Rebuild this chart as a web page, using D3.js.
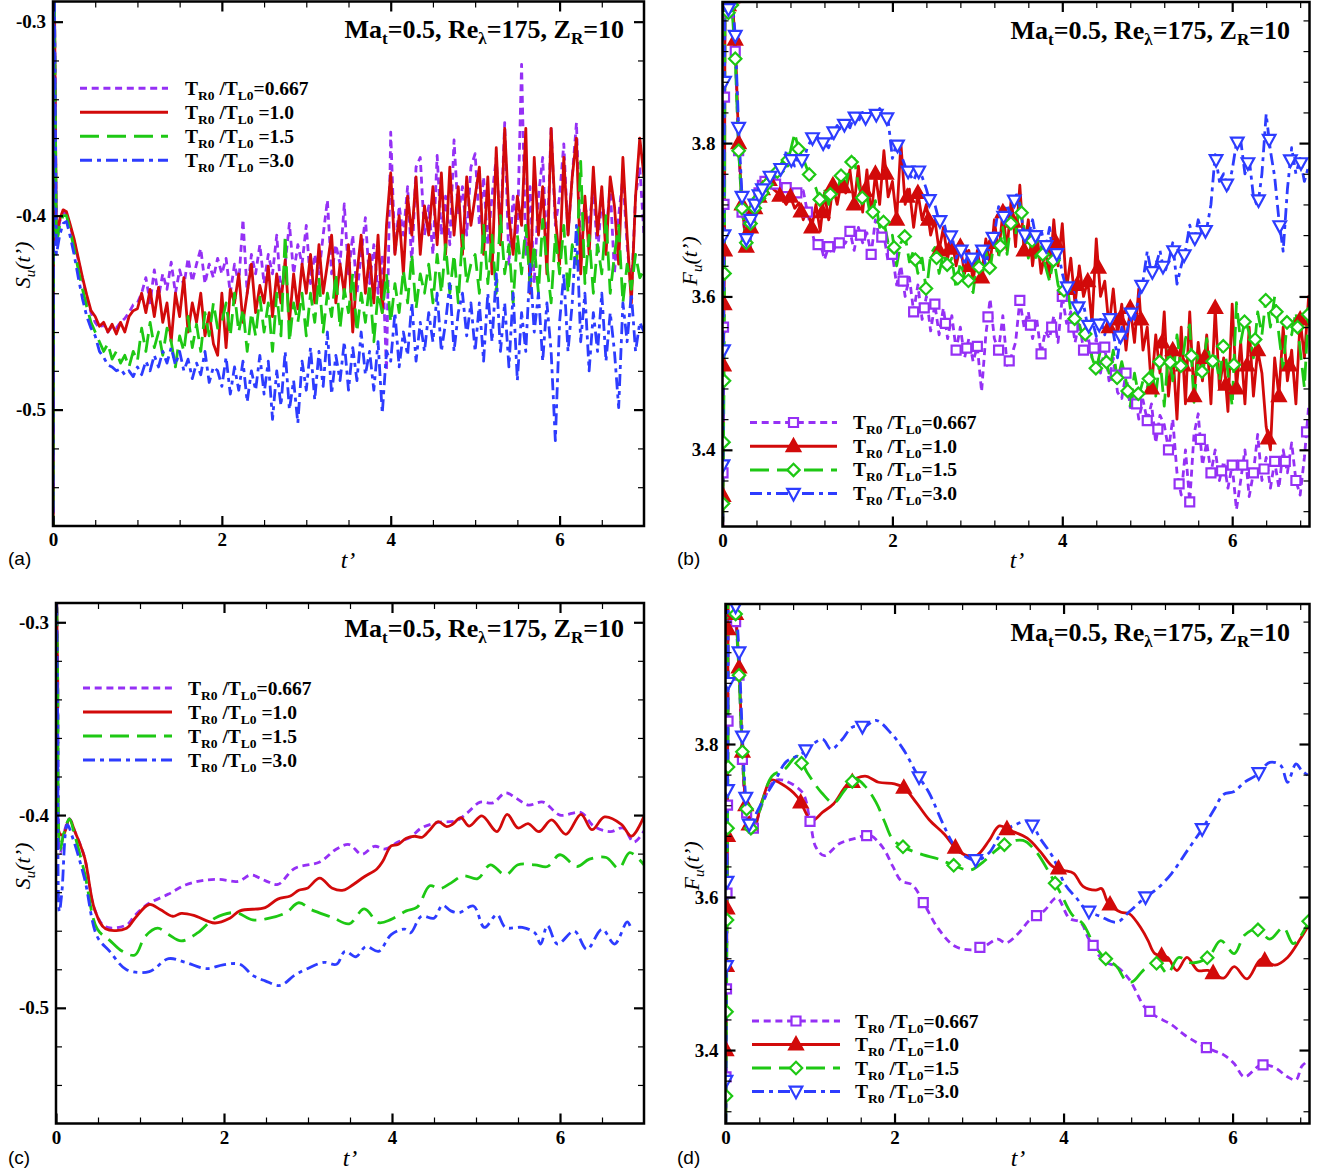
<!DOCTYPE html>
<html>
<head>
<meta charset="utf-8">
<script src="https://cdn.jsdelivr.net/npm/d3@7"></script>
<style>
body{margin:0;background:#fff;}
svg text{font-family:"Liberation Serif","Times New Roman",serif;fill:#000;}
</style>
</head>
<body>
<script>
(function(){

//---------------- data ----------------
var caseRatios = ["0.667", "1.0", "1.5", "3.0"];
var xTickValues = [0, 2, 4, 6];
var sTickValues = [-0.5, -0.4, -0.3];
var sTickLabels = ["-0.5", "-0.4", "-0.3"];
var fTickValues = [3.4, 3.6, 3.8];
var fTickLabels = ["3.4", "3.6", "3.8"];

//sampling of the raw (noisy) signals after the initial transient, t' = 0.5 ... 7.0
var rawTime = d3.range(131).map(function(i){ return 0.5 + 0.05*i; });

//(a) raw S_u, initial transient as [t', value]
var sHeadPurpleA = [[0,-0.62],[0.012,-0.26],[0.04,-0.415],[0.08,-0.403],[0.12,-0.398],[0.16,-0.399],[0.2,-0.405],[0.25,-0.413],[0.3,-0.423],[0.35,-0.433],[0.4,-0.442],[0.45,-0.45]];
var sHeadRedA = [[0,-0.62],[0.012,-0.26],[0.04,-0.41],[0.08,-0.402],[0.12,-0.397],[0.16,-0.398],[0.2,-0.404],[0.25,-0.412],[0.3,-0.422],[0.35,-0.432],[0.4,-0.441],[0.45,-0.449]];
var sHeadGreenA = [[0,-0.62],[0.012,-0.26],[0.04,-0.415],[0.08,-0.405],[0.12,-0.4],[0.16,-0.4],[0.2,-0.407],[0.25,-0.417],[0.3,-0.428],[0.35,-0.438],[0.4,-0.447],[0.45,-0.455]];
var sHeadBlueA = [[0,-0.62],[0.012,-0.26],[0.04,-0.42],[0.08,-0.41],[0.12,-0.404],[0.16,-0.403],[0.2,-0.41],[0.25,-0.42],[0.3,-0.432],[0.35,-0.443],[0.4,-0.452],[0.45,-0.458]];

var sRawPurple = [
 -0.455,-0.458,-0.456,-0.46,-0.457,-0.458,-0.455,-0.453,-0.45,-0.446,
 -0.445,-0.44,-0.432,-0.445,-0.428,-0.442,-0.43,-0.438,-0.424,-0.44,
 -0.428,-0.436,-0.422,-0.434,-0.425,-0.417,-0.435,-0.425,-0.432,-0.422,
 -0.43,-0.422,-0.44,-0.425,-0.435,-0.402,-0.44,-0.42,-0.43,-0.415,
 -0.435,-0.42,-0.43,-0.41,-0.44,-0.425,-0.404,-0.43,-0.415,-0.425,
 -0.405,-0.435,-0.42,-0.43,-0.41,-0.392,-0.43,-0.415,-0.425,-0.394,
 -0.43,-0.41,-0.44,-0.42,-0.401,-0.435,-0.415,-0.44,-0.42,-0.48,
 -0.357,-0.42,-0.395,-0.41,-0.385,-0.425,-0.375,-0.37,-0.41,-0.395,
 -0.42,-0.369,-0.41,-0.39,-0.415,-0.361,-0.4,-0.385,-0.41,-0.375,
 -0.368,-0.405,-0.38,-0.415,-0.39,-0.37,-0.41,-0.352,-0.425,-0.39,
 -0.41,-0.322,-0.42,-0.385,-0.435,-0.39,-0.37,-0.42,-0.354,-0.405,
 -0.39,-0.363,-0.41,-0.38,-0.352,-0.42,-0.395,-0.405,-0.385,-0.42,
 -0.39,-0.41,-0.385,-0.43,-0.4,-0.38,-0.415,-0.44,-0.39,-0.375,
 -0.41];
var sRawRed = [
 -0.452,-0.457,-0.455,-0.46,-0.456,-0.461,-0.455,-0.46,-0.452,-0.449,
 -0.448,-0.44,-0.45,-0.438,-0.452,-0.437,-0.455,-0.445,-0.465,-0.44,
 -0.452,-0.432,-0.46,-0.445,-0.455,-0.44,-0.462,-0.45,-0.466,-0.472,
 -0.44,-0.468,-0.438,-0.445,-0.43,-0.455,-0.44,-0.425,-0.45,-0.436,
 -0.445,-0.426,-0.452,-0.43,-0.445,-0.423,-0.455,-0.43,-0.448,-0.425,
 -0.44,-0.42,-0.445,-0.415,-0.44,-0.425,-0.41,-0.445,-0.425,-0.44,
 -0.415,-0.46,-0.43,-0.41,-0.44,-0.42,-0.445,-0.41,-0.45,-0.405,
 -0.378,-0.42,-0.4,-0.43,-0.39,-0.41,-0.38,-0.42,-0.395,-0.41,
 -0.385,-0.415,-0.378,-0.42,-0.375,-0.41,-0.385,-0.42,-0.38,-0.405,
 -0.39,-0.375,-0.42,-0.38,-0.43,-0.365,-0.415,-0.355,-0.4,-0.42,
 -0.39,-0.405,-0.355,-0.44,-0.37,-0.41,-0.385,-0.43,-0.355,-0.4,
 -0.425,-0.37,-0.41,-0.38,-0.36,-0.43,-0.39,-0.42,-0.375,-0.41,
 -0.385,-0.42,-0.38,-0.395,-0.425,-0.37,-0.41,-0.445,-0.39,-0.36,
 -0.38];
var sRawGreen = [
 -0.46,-0.465,-0.47,-0.466,-0.474,-0.47,-0.476,-0.472,-0.478,-0.47,
 -0.475,-0.458,-0.47,-0.455,-0.468,-0.46,-0.472,-0.458,-0.465,-0.478,
 -0.462,-0.47,-0.452,-0.468,-0.456,-0.47,-0.45,-0.462,-0.445,-0.458,
 -0.455,-0.445,-0.462,-0.44,-0.46,-0.448,-0.47,-0.45,-0.462,-0.442,
 -0.46,-0.445,-0.47,-0.44,-0.462,-0.41,-0.465,-0.445,-0.455,-0.44,
 -0.462,-0.44,-0.455,-0.432,-0.46,-0.44,-0.452,-0.43,-0.458,-0.438,
 -0.45,-0.43,-0.46,-0.44,-0.455,-0.435,-0.465,-0.44,-0.45,-0.43,
 -0.455,-0.435,-0.45,-0.428,-0.445,-0.42,-0.448,-0.43,-0.44,-0.425,
 -0.445,-0.42,-0.44,-0.415,-0.44,-0.42,-0.445,-0.41,-0.435,-0.425,
 -0.42,-0.44,-0.405,-0.435,-0.41,-0.44,-0.4,-0.43,-0.415,-0.445,
 -0.41,-0.43,-0.405,-0.435,-0.415,-0.44,-0.402,-0.425,-0.445,-0.41,
 -0.43,-0.405,-0.44,-0.415,-0.425,-0.372,-0.435,-0.41,-0.44,-0.415,
 -0.43,-0.4,-0.44,-0.42,-0.405,-0.445,-0.425,-0.438,-0.42,-0.432,
 -0.428];
var sRawBlue = [
 -0.462,-0.47,-0.473,-0.477,-0.478,-0.48,-0.479,-0.482,-0.48,-0.483,
 -0.478,-0.482,-0.475,-0.48,-0.472,-0.478,-0.47,-0.476,-0.468,-0.477,
 -0.47,-0.48,-0.474,-0.484,-0.476,-0.482,-0.47,-0.486,-0.478,-0.48,
 -0.488,-0.473,-0.492,-0.478,-0.49,-0.475,-0.496,-0.48,-0.49,-0.472,
 -0.492,-0.475,-0.505,-0.48,-0.498,-0.47,-0.5,-0.485,-0.507,-0.475,
 -0.49,-0.468,-0.495,-0.47,-0.488,-0.46,-0.492,-0.472,-0.485,-0.465,
 -0.49,-0.468,-0.485,-0.46,-0.482,-0.47,-0.49,-0.465,-0.502,-0.47,
 -0.475,-0.45,-0.478,-0.46,-0.472,-0.445,-0.475,-0.455,-0.47,-0.45,
 -0.465,-0.44,-0.47,-0.455,-0.435,-0.47,-0.45,-0.44,-0.462,-0.445,
 -0.47,-0.445,-0.475,-0.44,-0.465,-0.43,-0.47,-0.445,-0.478,-0.44,
 -0.485,-0.45,-0.47,-0.425,-0.46,-0.44,-0.475,-0.445,-0.47,-0.516,
 -0.455,-0.43,-0.47,-0.445,-0.405,-0.465,-0.44,-0.48,-0.45,-0.47,
 -0.44,-0.475,-0.45,-0.47,-0.499,-0.445,-0.465,-0.44,-0.47,-0.455,
 -0.46];

//(b) raw F_u, initial transient as [t', value]
var fHeadPurpleB = [[0,3.2],[0.006,3.37],[0.012,3.56],[0.018,3.72],[0.024,3.86],[0.03,4.05],[0.07,3.97],[0.11,3.985],[0.15,3.92],[0.19,3.79],[0.23,3.71],[0.28,3.67],[0.33,3.695],[0.38,3.72],[0.43,3.735],[0.47,3.745]];
var fHeadRedB = [[0,3.2],[0.006,3.34],[0.012,3.51],[0.018,3.59],[0.024,3.66],[0.03,4.05],[0.07,3.98],[0.11,3.99],[0.15,3.935],[0.19,3.8],[0.23,3.72],[0.28,3.665],[0.33,3.69],[0.38,3.715],[0.43,3.73],[0.47,3.74]];
var fHeadGreenB = [[0,3.2],[0.006,3.33],[0.012,3.41],[0.018,3.49],[0.024,3.63],[0.03,4.05],[0.07,3.97],[0.11,3.98],[0.15,3.91],[0.19,3.79],[0.23,3.715],[0.28,3.67],[0.33,3.695],[0.38,3.715],[0.43,3.728],[0.47,3.735]];
var fHeadBlueB = [[0,3.2],[0.006,3.38],[0.012,3.53],[0.018,3.68],[0.024,3.88],[0.03,4.05],[0.07,3.975],[0.11,3.995],[0.15,3.94],[0.19,3.82],[0.23,3.73],[0.28,3.675],[0.33,3.7],[0.38,3.72],[0.43,3.732],[0.47,3.74]];

var fRawPurple = [
 3.75,3.755,3.748,3.745,3.74,3.742,3.735,3.74,3.73,3.738,
 3.71,3.685,3.665,3.67,3.648,3.665,3.655,3.675,3.665,3.67,
 3.685,3.66,3.69,3.67,3.683,3.655,3.7,3.675,3.68,3.645,
 3.655,3.615,3.64,3.6,3.625,3.58,3.615,3.57,3.6,3.555,
 3.59,3.55,3.585,3.545,3.575,3.53,3.56,3.52,3.545,3.515,
 3.535,3.476,3.55,3.597,3.545,3.53,3.575,3.51,3.522,3.54,
 3.595,3.56,3.58,3.545,3.57,3.525,3.555,3.545,3.575,3.54,
 3.6,3.565,3.58,3.54,3.567,3.53,3.55,3.52,3.545,3.5,
 3.534,3.49,3.52,3.475,3.467,3.5,3.455,3.48,3.44,3.465,
 3.438,3.46,3.409,3.445,3.433,3.4,3.44,3.37,3.341,3.4,
 3.332,3.42,3.447,3.38,3.41,3.37,3.4,3.36,3.385,3.35,
 3.38,3.322,3.36,3.4,3.339,3.37,3.42,3.36,3.39,3.35,
 3.385,3.35,3.4,3.37,3.409,3.36,3.341,3.39,3.457,3.41,
 3.44];
var fRawRed = [
 3.745,3.752,3.74,3.735,3.728,3.72,3.73,3.715,3.722,3.7,
 3.715,3.69,3.72,3.685,3.735,3.7,3.745,3.72,3.75,3.735,
 3.765,3.72,3.77,3.71,3.765,3.705,3.76,3.72,3.79,3.73,
 3.75,3.7,3.8,3.72,3.74,3.69,3.735,3.7,3.72,3.68,
 3.7,3.66,3.69,3.65,3.675,3.64,3.665,3.63,3.66,3.62,
 3.66,3.625,3.675,3.64,3.7,3.655,3.71,3.66,3.73,3.665,
 3.745,3.66,3.7,3.64,3.685,3.63,3.66,3.625,3.7,3.64,
 3.695,3.61,3.65,3.59,3.64,3.6,3.62,3.565,3.675,3.6,
 3.62,3.56,3.61,3.55,3.59,3.53,3.585,3.54,3.61,3.53,
 3.56,3.48,3.55,3.5,3.58,3.47,3.53,3.44,3.56,3.46,
 3.58,3.47,3.54,3.49,3.55,3.46,3.585,3.48,3.52,3.45,
 3.59,3.48,3.54,3.46,3.56,3.47,3.53,3.5,3.43,3.4,
 3.52,3.47,3.56,3.49,3.53,3.46,3.57,3.52,3.6,3.54,
 3.56];
var fRawGreen = [
 3.74,3.755,3.745,3.765,3.775,3.77,3.79,3.813,3.79,3.78,
 3.765,3.75,3.741,3.725,3.74,3.72,3.753,3.735,3.76,3.745,
 3.772,3.78,3.745,3.727,3.73,3.7,3.725,3.69,3.698,3.67,
 3.68,3.64,3.67,3.679,3.645,3.66,3.63,3.65,3.606,3.655,
 3.664,3.63,3.655,3.64,3.65,3.61,3.645,3.625,3.62,3.605,
 3.65,3.62,3.66,3.635,3.674,3.65,3.69,3.655,3.7,3.68,
 3.722,3.69,3.65,3.675,3.645,3.665,3.64,3.62,3.65,3.615,
 3.6,3.62,3.58,3.57,3.563,3.545,3.56,3.52,3.505,3.53,
 3.524,3.5,3.53,3.49,3.515,3.49,3.457,3.5,3.47,3.49,
 3.481,3.51,3.47,3.52,3.457,3.53,3.49,3.55,3.505,3.545,
 3.563,3.462,3.52,3.5,3.545,3.51,3.524,3.49,3.54,3.5,
 3.457,3.592,3.54,3.57,3.553,3.52,3.58,3.55,3.6,3.56,
 3.6,3.55,3.505,3.573,3.55,3.58,3.53,3.481,3.587,3.56,
 3.58];
var fRawBlue = [
 3.745,3.758,3.75,3.77,3.765,3.789,3.78,3.77,3.785,3.775,
 3.795,3.805,3.813,3.8,3.8,3.794,3.812,3.823,3.815,3.828,
 3.82,3.835,3.828,3.84,3.83,3.842,3.835,3.845,3.838,3.83,
 3.78,3.8,3.785,3.77,3.76,3.751,3.765,3.756,3.74,3.72,
 3.72,3.698,3.7,3.675,3.68,3.65,3.665,3.64,3.66,3.645,
 3.65,3.665,3.64,3.669,3.68,3.717,3.7,3.72,3.7,3.736,
 3.72,3.68,3.679,3.7,3.67,3.688,3.66,3.69,3.645,3.66,
 3.63,3.61,3.62,3.6,3.58,3.59,3.56,3.57,3.548,3.57,
 3.55,3.575,3.553,3.52,3.56,3.545,3.58,3.57,3.6,3.62,
 3.659,3.63,3.64,3.66,3.63,3.645,3.67,3.616,3.64,3.66,
 3.693,3.67,3.7,3.68,3.688,3.72,3.785,3.75,3.76,3.74,
 3.765,3.8,3.804,3.76,3.78,3.73,3.717,3.76,3.838,3.79,
 3.756,3.7,3.659,3.74,3.794,3.76,3.78,3.75,3.77,3.76,
 3.76];

//(c) filtered S_u as [t', value]
var sFiltPurple = [[0,-0.25],[0.02,-0.33],[0.05,-0.42],[0.09,-0.41],[0.16,-0.402],[0.22,-0.408],[0.34,-0.422],[0.46,-0.449],[0.59,-0.458],[0.84,-0.457],[0.94,-0.452],[1.1,-0.446],[1.34,-0.441],[1.54,-0.4363],[1.74,-0.434],[1.94,-0.4334],[2.17,-0.4344],[2.32,-0.4311],[2.49,-0.434],[2.64,-0.436],[2.84,-0.4277],[3.14,-0.4243],[3.34,-0.4176],[3.49,-0.4153],[3.64,-0.4204],[3.79,-0.4162],[3.92,-0.4176],[4.07,-0.414],[4.22,-0.4115],[4.35,-0.4067],[4.55,-0.4038],[4.77,-0.4029],[4.9,-0.3987],[5.05,-0.3933],[5.2,-0.3937],[5.35,-0.3885],[5.47,-0.391],[5.62,-0.3948],[5.8,-0.3933],[6.0,-0.4],[6.25,-0.3987],[6.4,-0.4057],[6.6,-0.4086],[6.75,-0.4067],[6.88,-0.414],[7.0,-0.4082]];
var sFiltRed = [[0,-0.25],[0.02,-0.33],[0.05,-0.41],[0.09,-0.41],[0.16,-0.402],[0.22,-0.408],[0.34,-0.422],[0.46,-0.449],[0.59,-0.459],[0.84,-0.4587],[0.94,-0.4535],[1.11,-0.4464],[1.24,-0.449],[1.39,-0.4525],[1.49,-0.451],[1.64,-0.452],[1.89,-0.456],[2.07,-0.4535],[2.19,-0.4497],[2.49,-0.448],[2.64,-0.4436],[2.79,-0.442],[2.89,-0.439],[2.99,-0.438],[3.14,-0.4327],[3.29,-0.438],[3.42,-0.439],[3.54,-0.436],[3.67,-0.432],[3.82,-0.428],[3.89,-0.424],[3.99,-0.416],[4.07,-0.4153],[4.17,-0.412],[4.27,-0.411],[4.36,-0.4115],[4.45,-0.4077],[4.55,-0.4034],[4.65,-0.406],[4.72,-0.4048],[4.82,-0.4013],[4.92,-0.4057],[5.07,-0.4004],[5.25,-0.4086],[5.37,-0.3996],[5.5,-0.4067],[5.62,-0.4044],[5.75,-0.4086],[5.9,-0.4025],[6.07,-0.41],[6.25,-0.3996],[6.38,-0.4076],[6.53,-0.401],[6.73,-0.4048],[6.85,-0.411],[7.0,-0.4006]];
var sFiltGreen = [[0,-0.25],[0.02,-0.33],[0.05,-0.418],[0.09,-0.41],[0.16,-0.402],[0.22,-0.41],[0.34,-0.43],[0.49,-0.459],[0.64,-0.465],[0.79,-0.4707],[0.94,-0.4726],[1.06,-0.463],[1.21,-0.4587],[1.34,-0.462],[1.49,-0.4653],[1.69,-0.461],[1.89,-0.4535],[2.14,-0.4506],[2.34,-0.4544],[2.54,-0.4535],[2.74,-0.4506],[2.89,-0.4455],[3.04,-0.4491],[3.29,-0.4531],[3.49,-0.4564],[3.67,-0.4487],[3.84,-0.4558],[3.99,-0.4541],[4.17,-0.4497],[4.3,-0.4478],[4.45,-0.4367],[4.57,-0.4382],[4.7,-0.4353],[4.85,-0.4315],[5.02,-0.433],[5.17,-0.4258],[5.35,-0.4311],[5.5,-0.4258],[5.7,-0.4258],[5.85,-0.4267],[6.0,-0.4206],[6.2,-0.4267],[6.35,-0.4229],[6.55,-0.422],[6.7,-0.4277],[6.83,-0.4195],[7.0,-0.4258]];
var sFiltBlue = [[0,-0.25],[0.02,-0.35],[0.04,-0.45],[0.07,-0.44],[0.135,-0.405],[0.2,-0.412],[0.34,-0.433],[0.49,-0.463],[0.64,-0.4707],[0.84,-0.4802],[1.11,-0.4812],[1.34,-0.4745],[1.54,-0.4764],[1.79,-0.4797],[1.99,-0.4777],[2.19,-0.4774],[2.34,-0.4831],[2.49,-0.486],[2.67,-0.4884],[2.84,-0.4831],[2.99,-0.4797],[3.19,-0.4764],[3.34,-0.4774],[3.44,-0.4707],[3.57,-0.4735],[3.69,-0.4682],[3.84,-0.4707],[3.99,-0.462],[4.15,-0.4592],[4.22,-0.4611],[4.35,-0.4525],[4.5,-0.4535],[4.6,-0.4468],[4.7,-0.4497],[4.8,-0.4506],[4.97,-0.4472],[5.1,-0.4583],[5.25,-0.4516],[5.35,-0.4583],[5.55,-0.4583],[5.7,-0.4611],[5.77,-0.4669],[5.85,-0.4573],[5.97,-0.4669],[6.17,-0.4602],[6.32,-0.4697],[6.5,-0.4592],[6.65,-0.4669],[6.8,-0.4554],[6.85,-0.4592]];

//(d) filtered F_u, transient part and smooth part as [t', value]
var fHeadPurpleD = [[0,3.2],[0.006,3.365],[0.012,3.48],[0.018,3.605],[0.024,3.72],[0.03,3.83],[0.04,4.05],[0.08,3.99],[0.12,3.96],[0.16,3.89],[0.2,3.78],[0.25,3.71]];
var fHeadRedD = [[0,3.2],[0.006,3.4],[0.012,3.51],[0.018,3.585],[0.024,3.68],[0.03,3.95],[0.04,4.05],[0.08,4.0],[0.12,3.97],[0.16,3.9],[0.2,3.79],[0.24,3.72]];
var fHeadGreenD = [[0,3.2],[0.006,3.34],[0.012,3.45],[0.018,3.57],[0.024,3.69],[0.03,3.77],[0.04,4.05],[0.08,4.0],[0.12,3.97],[0.16,3.89],[0.2,3.79],[0.25,3.715]];
var fHeadBlueD = [[0,3.2],[0.006,3.36],[0.012,3.51],[0.018,3.62],[0.024,3.74],[0.03,3.88],[0.04,4.05],[0.08,4.0],[0.12,3.98],[0.16,3.92],[0.2,3.81],[0.24,3.73]];

var fFiltPurple = [[0.33,3.69],[0.44,3.723],[0.6,3.753],[0.9,3.738],[1.0,3.699],[1.07,3.665],[1.17,3.654],[1.35,3.67],[1.55,3.677],[1.7,3.681],[1.86,3.665],[1.98,3.64],[2.08,3.621],[2.21,3.616],[2.36,3.589],[2.51,3.56],[2.71,3.536],[2.91,3.531],[3.07,3.536],[3.22,3.545],[3.32,3.54],[3.47,3.553],[3.6,3.57],[3.77,3.582],[3.92,3.599],[4.07,3.572],[4.2,3.567],[4.3,3.545],[4.48,3.516],[4.63,3.509],[4.78,3.492],[4.96,3.456],[5.08,3.445],[5.28,3.433],[5.44,3.419],[5.71,3.402],[5.89,3.394],[6.02,3.382],[6.14,3.365],[6.34,3.381],[6.5,3.377],[6.65,3.365],[6.75,3.361],[6.82,3.379],[6.91,3.387]];
var fFiltRed = [[0.28,3.695],[0.32,3.684],[0.44,3.728],[0.54,3.753],[0.66,3.748],[0.85,3.731],[1.02,3.7],[1.15,3.711],[1.28,3.722],[1.45,3.748],[1.65,3.758],[1.81,3.75],[2.0,3.748],[2.11,3.743],[2.26,3.723],[2.41,3.701],[2.59,3.682],[2.74,3.662],[2.86,3.654],[2.97,3.654],[3.12,3.674],[3.24,3.693],[3.37,3.687],[3.57,3.677],[3.72,3.66],[3.87,3.64],[4.0,3.635],[4.12,3.631],[4.23,3.614],[4.38,3.609],[4.45,3.611],[4.53,3.592],[4.68,3.58],[4.78,3.578],[4.93,3.557],[5.0,3.543],[5.08,3.526],[5.23,3.521],[5.34,3.504],[5.46,3.521],[5.59,3.504],[5.71,3.504],[5.89,3.494],[6.02,3.509],[6.17,3.493],[6.34,3.519],[6.5,3.511],[6.65,3.521],[6.8,3.545],[6.91,3.565]];
var fFiltGreen = [[0.3,3.69],[0.39,3.709],[0.55,3.758],[0.7,3.767],[0.85,3.784],[0.97,3.762],[1.14,3.736],[1.28,3.723],[1.4,3.738],[1.53,3.755],[1.65,3.745],[1.78,3.724],[1.88,3.699],[1.98,3.675],[2.11,3.665],[2.34,3.655],[2.51,3.65],[2.71,3.641],[2.89,3.635],[3.04,3.645],[3.19,3.66],[3.32,3.67],[3.52,3.674],[3.67,3.66],[3.85,3.628],[3.97,3.604],[4.1,3.577],[4.23,3.565],[4.35,3.54],[4.48,3.521],[4.63,3.509],[4.73,3.492],[4.81,3.489],[4.96,3.506],[5.11,3.514],[5.23,3.5],[5.36,3.521],[5.51,3.514],[5.71,3.521],[5.86,3.543],[6.02,3.526],[6.14,3.55],[6.29,3.558],[6.44,3.545],[6.6,3.56],[6.72,3.539],[6.91,3.57]];
var fFiltBlue = [[0.28,3.695],[0.44,3.726],[0.6,3.755],[0.72,3.777],[0.9,3.787],[1.0,3.797],[1.15,3.806],[1.25,3.793],[1.38,3.806],[1.5,3.822],[1.65,3.823],[1.78,3.831],[1.96,3.814],[2.11,3.792],[2.26,3.762],[2.41,3.736],[2.56,3.699],[2.69,3.67],[2.81,3.655],[2.97,3.648],[3.12,3.658],[3.27,3.684],[3.42,3.694],[3.6,3.699],[3.72,3.677],[3.87,3.653],[4.02,3.616],[4.15,3.599],[4.28,3.582],[4.43,3.575],[4.63,3.567],[4.78,3.581],[4.96,3.599],[5.11,3.611],[5.28,3.631],[5.46,3.66],[5.64,3.689],[5.79,3.716],[5.89,3.734],[6.02,3.738],[6.14,3.75],[6.29,3.76],[6.44,3.776],[6.57,3.772],[6.65,3.75],[6.75,3.774],[6.82,3.765],[6.91,3.758]];

//---------------- styles ----------------
var lineColors = ["#9530f5", "#d20a0a", "#1ec814", "#2d3cff"];
var lineDashes = ["7,4.7", null, "19,8", "12,5,4,5"];
var markerKinds = ["square", "tri", "diamond", "tridown"];

//pair a time base with a value list
function pairUp(times, values){
    var n = Math.min(times.length, values.length);
    var out = [];
    for (var i=0; i<n; i++){
        out.push([times[i], values[i]]);
    };
    return out;
};

var svg = d3.select("body")
    .append("svg")
    .attr("width", 1329)
    .attr("height", 1172);

var panels = [
    {
        id: "a", kind: "S", l: 53, r: 644, t: 1.5, b: 526,
        xDomain: [0, 7], yDomain: [-0.56, -0.2896], xMinorStep: 0.5, yMinorStep: 0.02,
        smooth: false, markers: false,
        series: [
            sHeadPurpleA.concat(pairUp(rawTime, sRawPurple)),
            sHeadRedA.concat(pairUp(rawTime, sRawRed)),
            sHeadGreenA.concat(pairUp(rawTime, sRawGreen)),
            sHeadBlueA.concat(pairUp(rawTime, sRawBlue))
        ],
        legend: {x1: 80, x2: 168, y: 88.3, dy: 24, tx: 185, spaced: true},
        title: {x: 624, y: 38},
        yTitle: {x: 30, y: 265}, xTitle: {x: 348, y: 568}, tag: {x: 8, y: 565}
    },
    {
        id: "b", kind: "F", l: 722.5, r: 1309.5, t: 2, b: 526.5,
        xDomain: [0, 6.91], yDomain: [3.30, 3.984], xMinorStep: 0.4, yMinorStep: 0.04,
        smooth: false, markers: true,
        heads: [fHeadPurpleB, fHeadRedB, fHeadGreenB, fHeadBlueB],
        series: [
            fHeadPurpleB.concat(pairUp(rawTime, fRawPurple)),
            fHeadRedB.concat(pairUp(rawTime, fRawRed)),
            fHeadGreenB.concat(pairUp(rawTime, fRawGreen)),
            fHeadBlueB.concat(pairUp(rawTime, fRawBlue))
        ],
        markStart: [0.5, 0.55, 0.52, 0.56], markStep: [0.125, 0.125, 0.125, 0.125],
        legend: {x1: 750, x2: 837, y: 422.5, dy: 23.7, tx: 853, spaced: false},
        title: {x: 1290, y: 39},
        yTitle: {x: 697, y: 261}, xTitle: {x: 1017, y: 568}, tag: {x: 677, y: 565}
    },
    {
        id: "c", kind: "S", l: 56, r: 644, t: 603, b: 1123.5,
        xDomain: [0, 7], yDomain: [-0.56, -0.29], xMinorStep: 0.5, yMinorStep: 0.02,
        smooth: true, markers: false,
        series: [sFiltPurple, sFiltRed, sFiltGreen, sFiltBlue],
        legend: {x1: 83, x2: 172, y: 688, dy: 24, tx: 188, spaced: true},
        title: {x: 624, y: 637},
        yTitle: {x: 30, y: 866}, xTitle: {x: 350, y: 1166}, tag: {x: 8, y: 1164}
    },
    {
        id: "d", kind: "F", l: 725.5, r: 1309.5, t: 604, b: 1123.5,
        xDomain: [0, 6.91], yDomain: [3.304, 3.983], xMinorStep: 0.4, yMinorStep: 0.04,
        smooth: true, markers: true,
        heads: [fHeadPurpleD, fHeadRedD, fHeadGreenD, fHeadBlueD],
        series: [
            fHeadPurpleD.concat(fFiltPurple),
            fHeadRedD.concat(fFiltRed),
            fHeadGreenD.concat(fFiltGreen),
            fHeadBlueD.concat(fFiltBlue)
        ],
        markStart: [0.33, 0.28, 0.3, 0.28], markStep: [0.67, 0.61, 0.6, 0.67],
        legend: {x1: 752, x2: 840, y: 1021, dy: 23.5, tx: 855, spaced: false},
        title: {x: 1290, y: 641},
        yTitle: {x: 699, y: 866}, xTitle: {x: 1018, y: 1166}, tag: {x: 677, y: 1164}
    }
];

panels.forEach(drawPanel);

//marker outline for each series
function markerPath(kind){
    if (kind == "square") return "M-4.5,-4.5H4.5V4.5H-4.5Z";
    if (kind == "tri") return "M0,-7.2L6.8,5L-6.8,5Z";
    if (kind == "diamond") return "M0,-6.2L6.2,0L0,6.2L-6.2,0Z";
    return "M0,6.8L6.3,-4.8L-6.3,-4.8Z";
};

//linear lookup of a series value at time t
function valueAt(pts, t){
    var i = d3.bisector(function(d){ return d[0]; }).left(pts, t);
    if (i <= 0) return pts[0][1];
    if (i >= pts.length) return pts[pts.length-1][1];
    var a = pts[i-1], b = pts[i];
    return a[1] + (b[1]-a[1])*(t-a[0])/(b[0]-a[0]);
};

function drawPanel(p){
    var x = d3.scaleLinear().domain(p.xDomain).range([p.l, p.r]);
    var y = d3.scaleLinear().domain(p.yDomain).range([p.b, p.t]);

    svg.append("clipPath")
        .attr("id", "clip-" + p.id)
        .append("rect")
        .attr("x", p.l).attr("y", p.t)
        .attr("width", p.r - p.l).attr("height", p.b - p.t);

    var plot = svg.append("g").attr("clip-path", "url(#clip-" + p.id + ")");

    var line = d3.line()
        .x(function(d){ return x(d[0]); })
        .y(function(d){ return y(d[1]); })
        .curve(p.smooth ? d3.curveCatmullRom.alpha(0.5) : d3.curveLinear);

    p.series.forEach(function(s, i){
        plot.append("path")
            .datum(s)
            .attr("d", line)
            .attr("fill", "none")
            .attr("stroke", lineColors[i])
            .attr("stroke-width", 2.8)
            .attr("stroke-linejoin", "round")
            .attr("stroke-dasharray", lineDashes[i]);
    });

    //markers: every transient sample, then at a fixed spacing along the curve
    if (p.markers){
        p.series.forEach(function(s, i){
            var pts = p.heads[i].map(function(d){ return d; });
            d3.range(p.markStart[i], p.xDomain[1], p.markStep[i]).forEach(function(t){
                pts.push([t, valueAt(s, t)]);
            });
            plot.selectAll(".mk" + i)
                .data(pts)
                .enter()
                .append("path")
                .attr("class", "mk" + i)
                .attr("d", markerPath(markerKinds[i]))
                .attr("transform", function(d){ return "translate(" + x(d[0]) + "," + y(d[1]) + ")"; })
                .attr("fill", i == 1 ? lineColors[i] : "#fff")
                .attr("stroke", lineColors[i])
                .attr("stroke-width", 2.2);
        });
    };

    //ticks on all four sides, pointing inward
    var yMajor = p.kind == "S" ? sTickValues : fTickValues;
    var yLabels = p.kind == "S" ? sTickLabels : fTickLabels;
    var xMinor = d3.range(0, p.xDomain[1], p.xMinorStep)
        .map(function(v){ return Math.round(v*100)/100; })
        .filter(function(v){ return xTickValues.indexOf(v) < 0; });
    var yMinor = d3.range(Math.ceil(p.yDomain[0]/p.yMinorStep), Math.floor(p.yDomain[1]/p.yMinorStep) + 1)
        .map(function(k){ return Math.round(k*p.yMinorStep*100)/100; })
        .filter(function(v){ return yMajor.indexOf(v) < 0 && v > p.yDomain[0] && v < p.yDomain[1]; });

    function addAxis(axis, tx, ty, width){
        var g = svg.append("g")
            .attr("transform", "translate(" + tx + "," + ty + ")")
            .call(axis);
        g.select(".domain").remove();
        g.selectAll(".tick line").attr("stroke", "#000").attr("stroke-width", width);
        g.selectAll("text")
            .style("font-family", "'Liberation Serif','Times New Roman',serif")
            .style("font-weight", "bold")
            .style("font-size", "19px")
            .attr("fill", "#000");
        return g;
    };

    addAxis(d3.axisBottom(x).tickValues(xTickValues).tickSize(-10).tickPadding(7)
        .tickFormat(function(d){ return String(d); }), 0, p.b, 2.2);
    addAxis(d3.axisBottom(x).tickValues(xMinor).tickSize(-6).tickFormat(""), 0, p.b, 1.2);
    addAxis(d3.axisTop(x).tickValues(xTickValues).tickSize(-10).tickFormat(""), 0, p.t, 2.2);
    addAxis(d3.axisTop(x).tickValues(xMinor).tickSize(-6).tickFormat(""), 0, p.t, 1.2);
    addAxis(d3.axisLeft(y).tickValues(yMajor).tickSize(-10).tickPadding(7)
        .tickFormat(function(d, i){ return yLabels[i]; }), p.l, 0, 2.2);
    addAxis(d3.axisLeft(y).tickValues(yMinor).tickSize(-6).tickFormat(""), p.l, 0, 1.2);
    addAxis(d3.axisRight(y).tickValues(yMajor).tickSize(-10).tickFormat(""), p.r, 0, 2.2);
    addAxis(d3.axisRight(y).tickValues(yMinor).tickSize(-6).tickFormat(""), p.r, 0, 1.2);

    //frame
    svg.append("rect")
        .attr("x", p.l).attr("y", p.t)
        .attr("width", p.r - p.l).attr("height", p.b - p.t)
        .attr("fill", "none")
        .attr("stroke", "#000")
        .attr("stroke-width", 2.5);

    //case title
    var title = svg.append("text")
        .attr("x", p.title.x).attr("y", p.title.y)
        .attr("text-anchor", "end")
        .style("font-weight", "bold")
        .style("font-size", "26px");
    [["Ma", 0], ["t", 1], ["=0.5, Re", -1], ["\u03bb", 1], ["=175, Z", -1], ["R", 1], ["=10", -1]].forEach(function(part){
        var ts = title.append("tspan").text(part[0]);
        if (part[1] == 1) ts.attr("dy", 6).style("font-size", "17px");
        if (part[1] == -1) ts.attr("dy", -6);
    });

    //legend
    var lg = svg.append("g");
    caseRatios.forEach(function(r, i){
        var ly = p.legend.y + i*p.legend.dy;
        lg.append("line")
            .attr("x1", p.legend.x1).attr("x2", p.legend.x2)
            .attr("y1", ly).attr("y2", ly)
            .attr("stroke", lineColors[i])
            .attr("stroke-width", 3)
            .attr("stroke-dasharray", lineDashes[i]);
        if (p.markers){
            lg.append("path")
                .attr("d", markerPath(markerKinds[i]))
                .attr("transform", "translate(" + (p.legend.x1 + p.legend.x2)/2 + "," + ly + ")")
                .attr("fill", i == 1 ? lineColors[i] : "#fff")
                .attr("stroke", lineColors[i])
                .attr("stroke-width", 2.2);
        };
        var lt = lg.append("text")
            .attr("x", p.legend.tx).attr("y", ly + 6.5)
            .style("font-weight", "bold")
            .style("font-size", "19.5px");
        lt.append("tspan").text("T");
        lt.append("tspan").attr("dy", 5).style("font-size", "13.5px").text("R0");
        lt.append("tspan").attr("dy", -5).text(" /T");
        lt.append("tspan").attr("dy", 5).style("font-size", "13.5px").text("L0");
        lt.append("tspan").attr("dy", -5).text((p.legend.spaced && i > 0 ? " =" : "=") + r);
    });

    //axis titles
    var yt = svg.append("text")
        .attr("transform", "translate(" + p.yTitle.x + "," + p.yTitle.y + ") rotate(-90)")
        .attr("text-anchor", "middle")
        .style("font-style", "italic")
        .style("font-size", "22px");
    yt.append("tspan").text(p.kind);
    yt.append("tspan").attr("dy", 5).style("font-size", "15px").text("u");
    yt.append("tspan").attr("dy", -5).text("(t\u2019)");

    svg.append("text")
        .attr("x", p.xTitle.x).attr("y", p.xTitle.y)
        .attr("text-anchor", "middle")
        .style("font-style", "italic")
        .style("font-size", "24px")
        .text("t\u2019");

    svg.append("text")
        .attr("x", p.tag.x).attr("y", p.tag.y)
        .style("font-family", "'Liberation Sans',Arial,sans-serif")
        .style("font-size", "19px")
        .text("(" + p.id + ")");
};

})();
</script>
</body>
</html>
